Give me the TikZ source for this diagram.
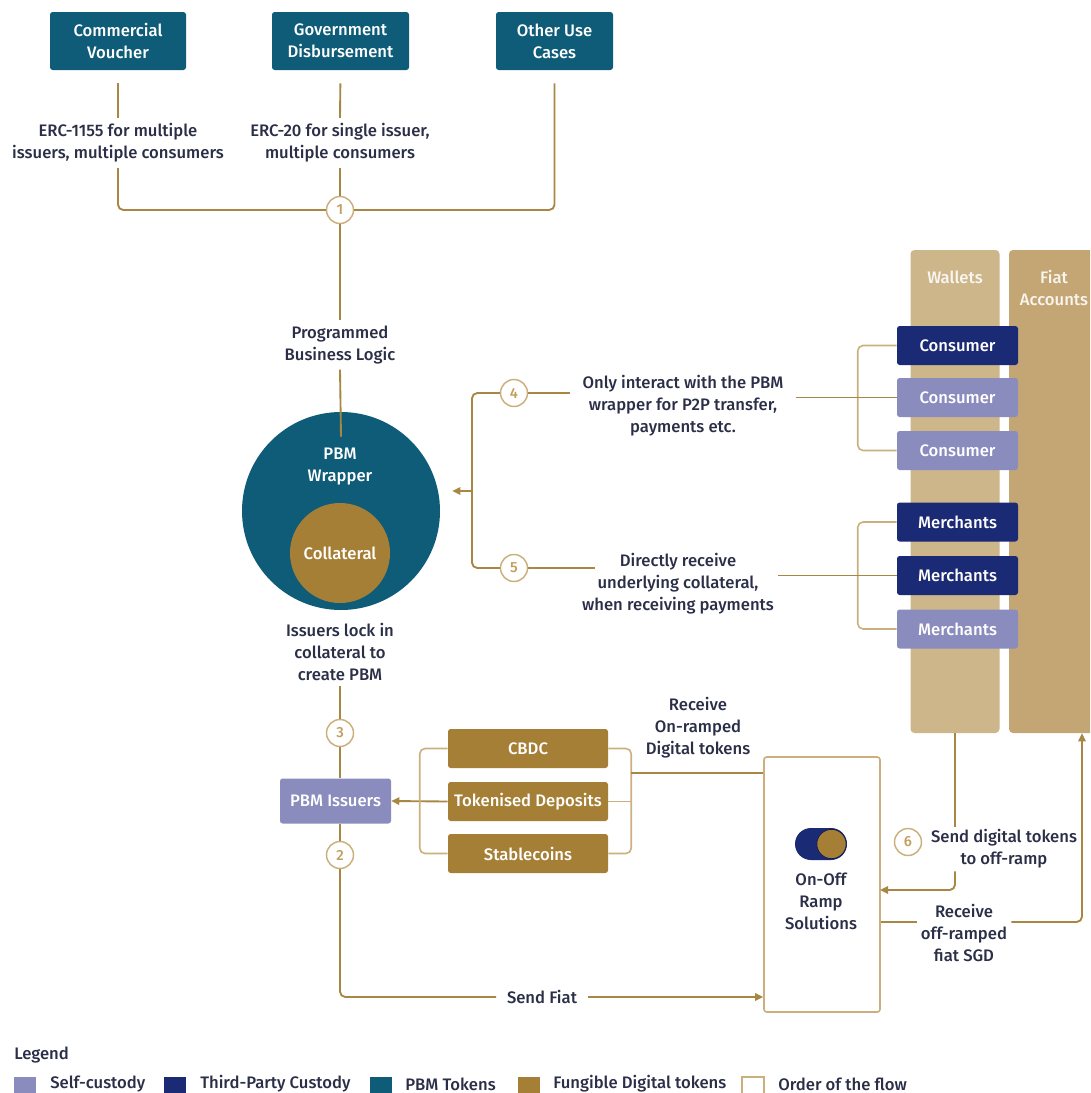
\documentclass[tikz,border=0pt]{standalone}
\usepackage{fontspec}
\setmainfont{Fira Sans}[UprightFont={* Medium}]
\usetikzlibrary{arrows.meta,calc}
\definecolor{pbmteal}{HTML}{0F5C78}
\definecolor{fungold}{HTML}{A67F36}
\definecolor{tpnavy}{HTML}{1B2A74}
\definecolor{selflav}{HTML}{8B8CBE}
\definecolor{walletpanel}{HTML}{CDB68A}
\definecolor{fiatpanel}{HTML}{C4A674}
\definecolor{flowline}{HTML}{A88744}
\definecolor{bracketline}{HTML}{CBB07E}
\definecolor{inkc}{HTML}{2A2E46}
\definecolor{numgold}{HTML}{C29E5C}
\newcommand\dgfont{\fontsize{12.5}{16.5}\selectfont}
\newcommand\numfont{\fontsize{11}{12}\selectfont}

\begin{document}
\begin{tikzpicture}[x=0.75pt,y=-0.75pt,
  every node/.style={font=\dgfont},
  teal box/.style={rectangle,rounded corners=2pt,fill=pbmteal,text=white,align=center,minimum height=43.5pt,inner sep=0pt},
  fund box/.style={rectangle,rounded corners=2pt,fill=fungold,text=white,minimum width=120pt,minimum height=29.25pt,inner sep=0pt},
  party box/.style={rectangle,rounded corners=2pt,text=white,minimum width=90.75pt,minimum height=29.25pt,inner sep=0pt},
  selfbox/.style={party box,fill=selflav},
  thirdbox/.style={party box,fill=tpnavy},
  note/.style={text=inkc,align=center,inner sep=4pt},
  stepcirc/.style={circle,draw=bracketline,line width=1.1pt,fill=white,text=numgold,font=\numfont,minimum size=20.25pt,inner sep=0pt},
  conn/.style={draw=flowline,line width=1.4pt},
  brk/.style={draw=bracketline,line width=1.2pt,rounded corners=4pt},
  flowtip/.style={-{Triangle[length=6pt,width=5.5pt]}},
  panel/.style={rectangle,rounded corners=3pt,minimum height=362.25pt,inner sep=0pt},
  swatch/.style={rectangle,minimum size=16.5pt,inner sep=0pt},
  keytext/.style={text=inkc,anchor=west,inner sep=0pt},
]
\useasboundingbox (0,0) rectangle (1090,1093);
\clip (0,0) rectangle (1090,1093);

% use cases
\node[teal box,minimum width=102pt] (cv) at (118,41) {Commercial\\Voucher};
\node[teal box,minimum width=102.75pt] (gd) at (340.5,41) {Government\\Disbursement};
\node[teal box,minimum width=87.75pt] (ou) at (554.5,41) {Other Use\\Cases};

\node[note] (n1155) at (118,143) {ERC-1155 for multiple\\issuers, multiple consumers};
\node[note] (n20) at (340,143) {ERC-20 for single issuer,\\multiple consumers};
\node[stepcirc] (s1) at (340,210) {1};

\draw[conn,shorten <=9.75pt] (cv.south) -- (n1155.north);
\draw[conn,shorten <=9.75pt] (gd.south) -- (n20.north);
\draw[conn] (n20.south) -- (s1.north);
\draw[conn,rounded corners=4pt] (n1155.south) |- (s1.west);
\draw[conn,rounded corners=4pt,shorten <=9.75pt] (ou.south) |- (s1.east);

% PBM wrapper
\node[note] (plogic) at (340,345) {Programmed\\Business Logic};
\draw[conn] (s1.south) -- (plogic.north);
\node[circle,fill=pbmteal,minimum size=148.5pt,inner sep=0pt] (wrap) at (341,511) {};
\node[circle,fill=fungold,minimum size=75pt,inner sep=0pt,text=white] (coll) at (340,553) {Collateral};
\node[text=white,align=center,inner sep=0pt] (wraptxt) at (340,467) {PBM\\Wrapper};
\draw[conn] (plogic.south) -- ($(wrap.north)+(0,25)$);

\node[note] (lock) at (340,652) {Issuers lock in\\collateral to\\create PBM};
\node[stepcirc] (s3) at (340,733) {3};
\draw[conn] (lock.south) -- (s3.north);

\node[selfbox,minimum width=83.25pt,minimum height=33.75pt] (iss) at (335.5,801) {PBM Issuers};
\node[stepcirc] (s2) at (340,855) {2};
\draw[conn] (s3.south) -- (s3.south |- iss.north);
\draw[conn] (iss.south -| s2) -- (s2.north);

% on-off ramp
\node[rectangle,draw=bracketline,line width=1.2pt,rounded corners=2pt,minimum width=87pt,minimum height=191.25pt,fill=white] (ramp) at (822,884.5) {};
\node[rectangle,rounded corners=12pt,fill=tpnavy,minimum width=39pt,minimum height=24pt,inner sep=0pt] (tog) at (821,844) {};
\node[circle,fill=fungold,draw=tpnavy!70!black,line width=0.6pt,minimum size=22pt,inner sep=0pt] (knob) at (831.5,844) {};
\node[note,inner sep=0pt] (ramptxt) at (821,901) {On-Off\\Ramp\\Solutions};

\node[note,inner xsep=8pt] (sfiat) at (542,997) {Send Fiat};
\draw[conn,rounded corners=4pt] (s2.south) |- (sfiat.west);
\draw[conn,flowtip] (sfiat.east) -- (sfiat.east -| ramp.west);

% fungible digital tokens
\node[fund box] (cbdc) at (528,748.5) {CBDC};
\node[fund box] (tokd) at (528,801.5) {Tokenised Deposits};
\node[fund box] (stab) at (528,853.5) {Stablecoins};
\draw[conn,flowtip] (tokd.west) -- (iss.east);
\draw[brk] (cbdc.west) -- ++(-28,0) |- (stab.west);
\draw[brk] (cbdc.east) -- ++(23,0) |- (stab.east);
\draw[brk] (tokd.east) -- ++(23,0);
\node[note] (onlab) at (698,728) {Receive\\On-ramped\\Digital tokens};
\coordinate (onj) at (631,773);
\draw[conn] (onj) -- (onj -| ramp.west);

% wallets and fiat accounts
\node[panel,fill=walletpanel,minimum width=66.75pt] (wal) at (955,491.5) {};
\node[panel,fill=fiatpanel,minimum width=68.25pt] (fiat) at (1054.5,491.5) {};
\node[text=white!88!walletpanel,inner sep=0pt] (waltxt) at (955,277) {Wallets};
\node[text=white!88!fiatpanel,align=center,inner sep=0pt] (fiattxt) at (1054,288) {Fiat\\Accounts};

\node[thirdbox] (con1) at (957.5,345.5) {Consumer};
\node[selfbox] (con2) at (957.5,397.5) {Consumer};
\node[selfbox] (con3) at (957.5,450.5) {Consumer};
\node[thirdbox] (mer1) at (957.5,522) {Merchants};
\node[thirdbox] (mer2) at (957.5,575.5) {Merchants};
\node[selfbox] (mer3) at (957.5,629) {Merchants};
\draw[brk] (con1.west) -- ++(-39,0) |- (con3.west);
\draw[brk] (mer1.west) -- ++(-39,0) |- (mer3.west);

% steps 4 and 5
\node[stepcirc] (s4) at (514,393) {4};
\node[stepcirc] (s5) at (514,568) {5};
\node[note,inner xsep=9pt] (n4) at (683,406) {Only interact with the PBM\\wrapper for P2P transfer,\\payments etc.};
\node[note,inner xsep=3pt] (n5) at (678,584) {Directly receive\\underlying collateral,\\when receiving payments};
\coordinate (n5l) at (595,568);
\draw[conn] (s4.east) -- (s4.east -| n4.west);
\draw[conn] (n4.east |- con2) -- (con2.west);
\draw[conn] (s5.east) -- (n5l);
\draw[conn] (n5.east |- mer2) -- (mer2.west);
\coordinate (bx) at (472,491);
\draw[conn,rounded corners=4pt] (s4.west) -| (bx) |- (s5.west);
\draw[conn,flowtip,shorten >=9pt] (bx) -- (bx -| wrap.east);

% step 6 and off-ramp
\node[stepcirc] (s6) at (908,842) {6};
\node[note,inner sep=2pt] (n6) at (1004,849) {Send digital tokens\\to off-ramp};
\coordinate (rampin) at (880,890);
\draw[conn] (wal.south) -- (wal.south |- n6.north);
\draw[conn,flowtip,rounded corners=4pt] (wal.south |- n6.south) |- (rampin);

\node[note,inner sep=3pt] (n7) at (964,933) {Receive\\off-ramped\\fiat SGD};
\coordinate (rcv) at (0,922);
\coordinate (fx) at (1082,0);
\draw[conn] (ramp.east |- rcv) -- (n7.west |- rcv);
\draw[conn,flowtip,rounded corners=4pt] (n7.east |- rcv) -| (fx |- fiat.south);

% legend
\node[keytext] (legend) at (14,1055) {Legend};
\node[swatch,fill=selflav] (k1) at (25,1088) {};
\node[keytext] (k1t) at (50,1084) {Self-custody};
\node[swatch,fill=tpnavy] (k2) at (175,1088) {};
\node[keytext] (k2t) at (200,1084) {Third-Party Custody};
\node[swatch,fill=pbmteal] (k3) at (381,1088) {};
\node[keytext] (k3t) at (405,1084) {PBM Tokens};
\node[swatch,fill=fungold] (k4) at (529,1088) {};
\node[keytext] (k4t) at (553,1084) {Fungible Digital tokens};
\node[swatch,fill=white,draw=bracketline,line width=1pt] (k5) at (753,1088) {};
\node[keytext] (k5t) at (778,1084) {Order of the flow};
\end{tikzpicture}
\end{document}
